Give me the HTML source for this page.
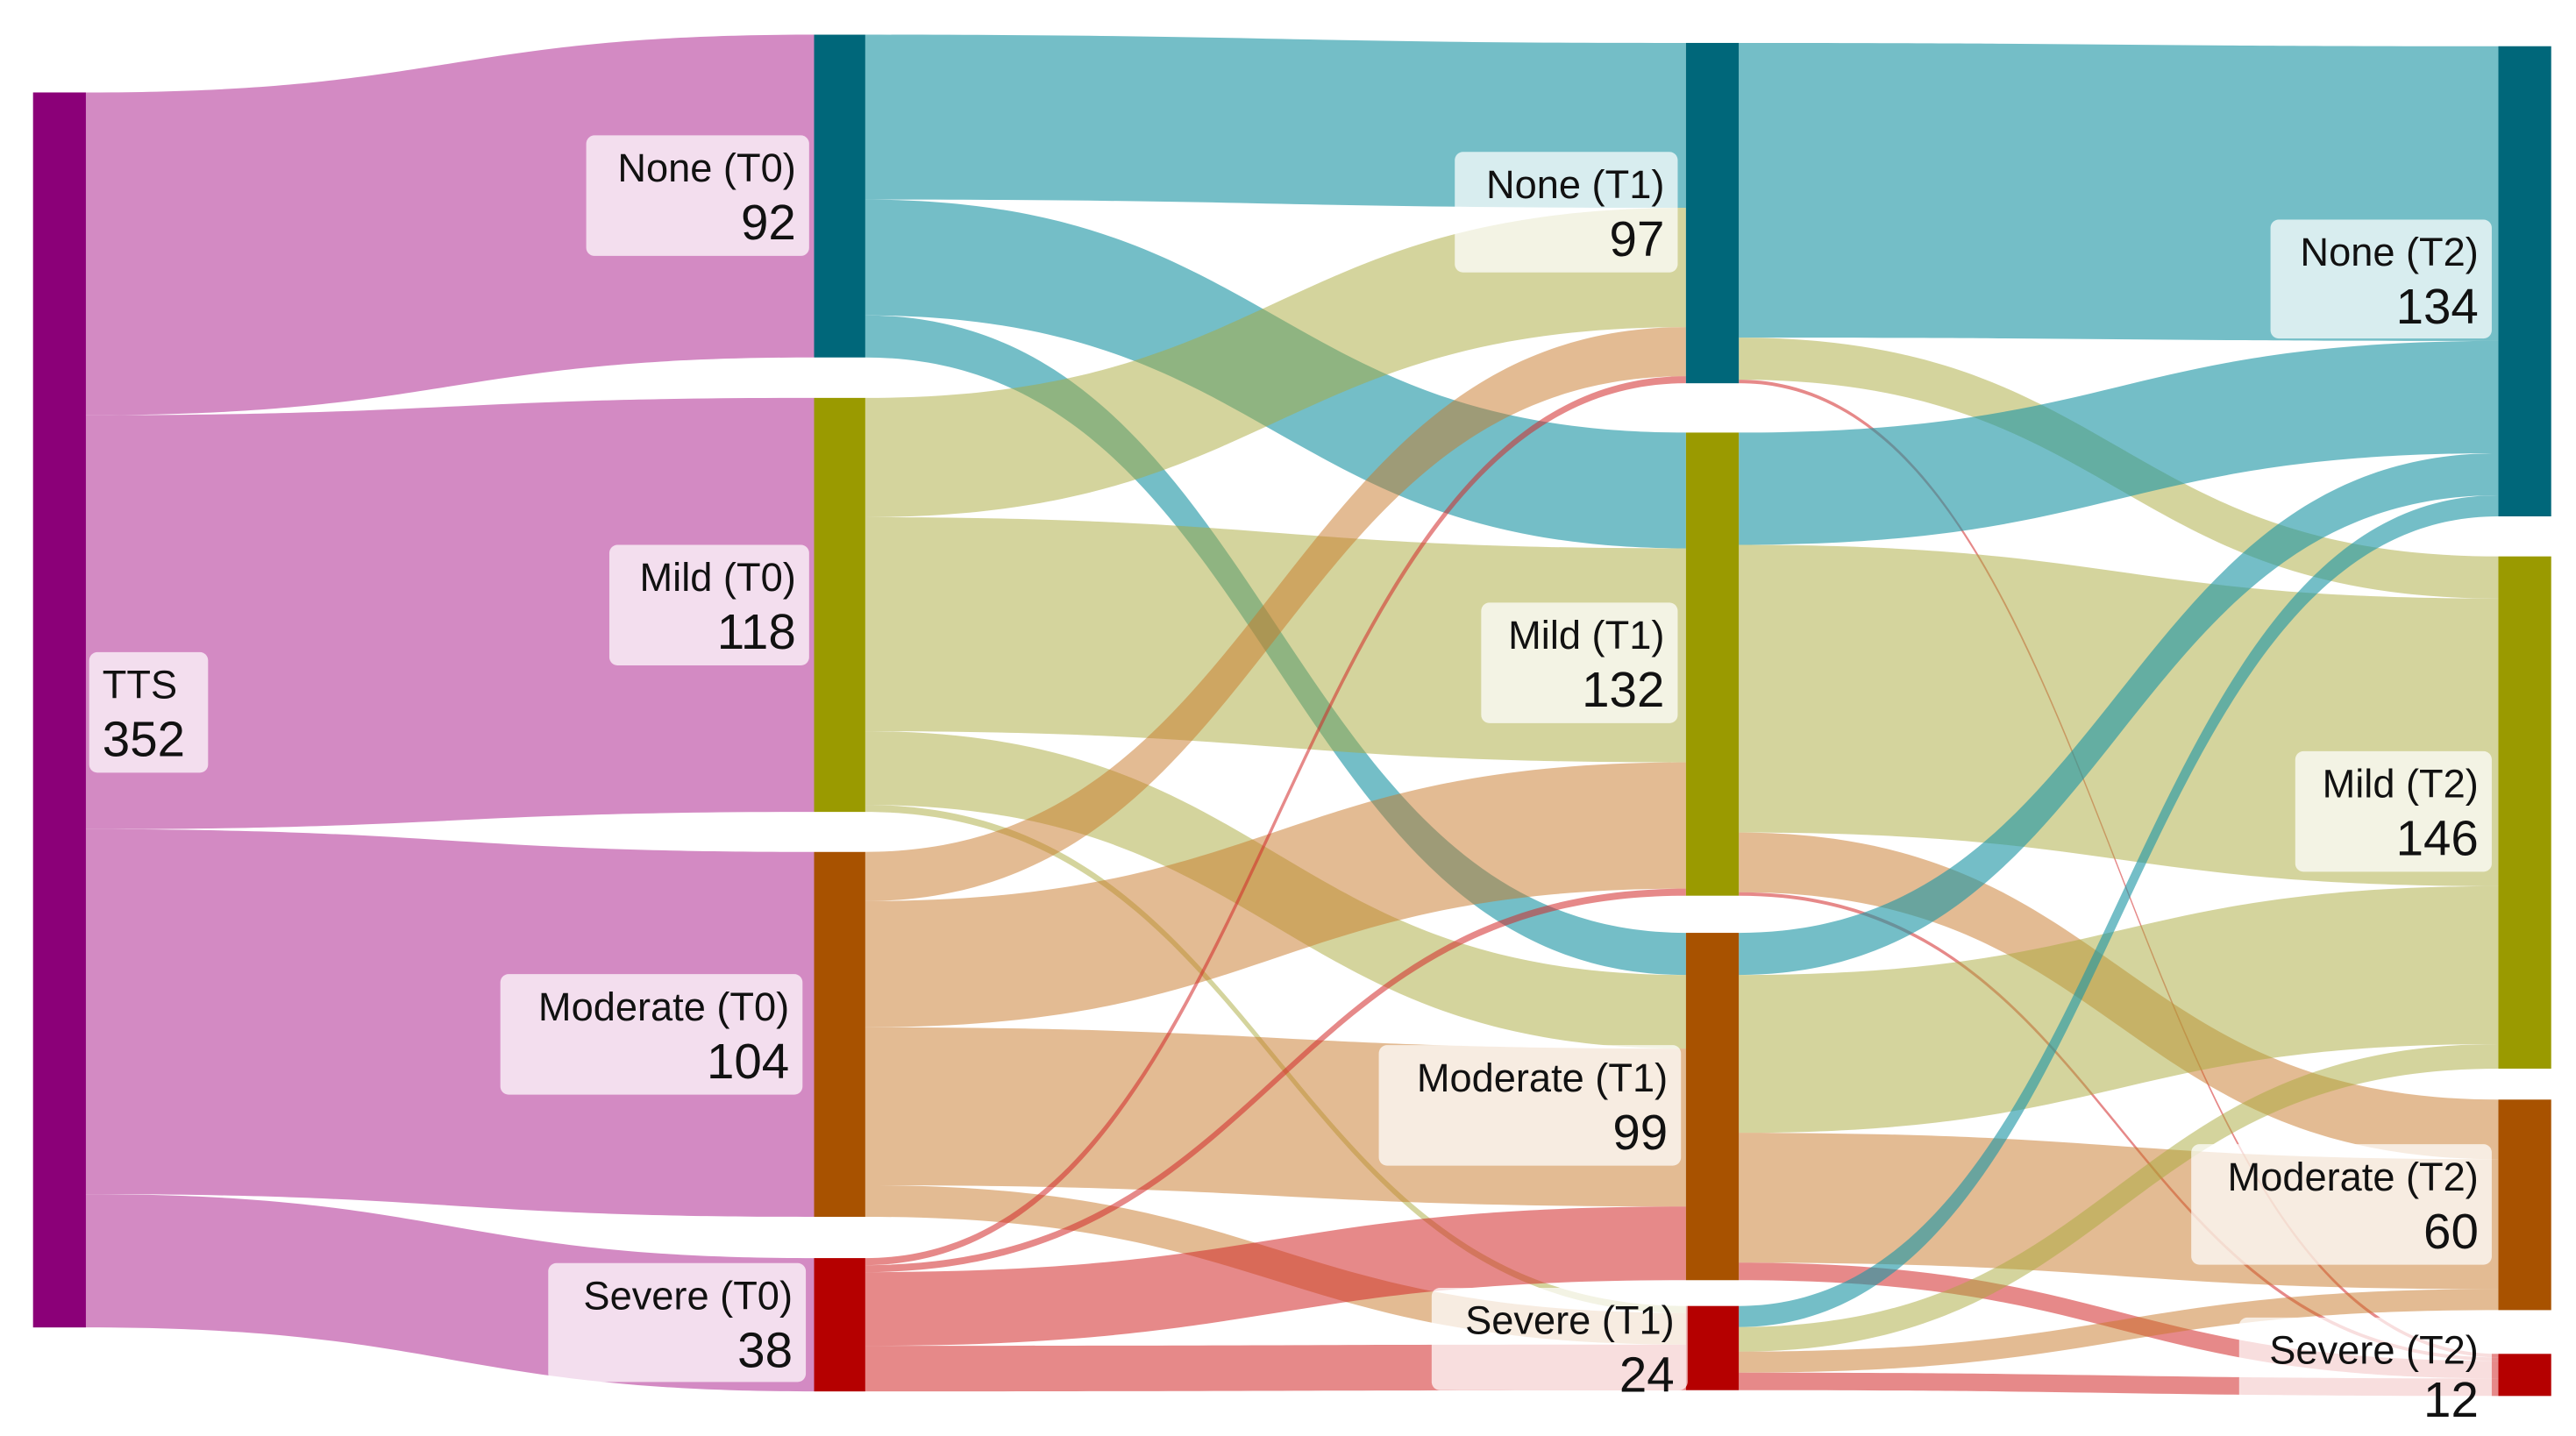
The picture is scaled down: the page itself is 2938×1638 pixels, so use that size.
<!DOCTYPE html>
<html><head><meta charset="utf-8"><style>
html,body{margin:0;padding:0;background:#fff;}
svg{display:block;}
text{font-family:"Liberation Sans",sans-serif;fill:#111;}
</style></head><body>
<svg id="chart" width="2938" height="1638" viewBox="0 0 1560 869.75" xmlns="http://www.w3.org/2000/svg">
<g id="links"></g>
<g id="nodes"></g>
<g id="labels"></g>
</svg>
<script>
// ---- data ----
const nodeNames = ["TTS","None (T0)","Mild (T0)","Moderate (T0)","Severe (T0)","None (T1)","Mild (T1)","Moderate (T1)","Severe (T1)","None (T2)","Mild (T2)","Moderate (T2)","Severe (T2)"];
const nodeValues = [352,92,118,104,38,97,132,99,24,134,146,60,12];
const nodeColumn = [0,1,1,1,1,2,2,2,2,3,3,3,3];
const linkSource = [0,0,0,0, 1,1,1, 2,2,2,2, 3,3,3,3, 4,4,4,4, 5,5,5, 6,6,6,6, 7,7,7,7, 8,8,8,8];
const linkTarget = [1,2,3,4, 5,6,7, 5,6,7,8, 5,6,7,8, 5,6,7,8, 9,10,12, 9,10,11,12, 9,10,11,12, 9,10,11,12];
const linkValues = [92,118,104,38, 47,33,12, 34,61,21,2, 14,36,45,9, 2,2,21,13, 84,12,1, 32,82,17,1, 12,45,37,5, 6,7,6,5];
const linkColorKey = ["p","p","p","p", "t","t","t", "o","o","o","o", "r","r","r","r", "s","s","s","s", "t","o","s", "t","o","r","s", "t","o","r","s", "t","o","r","s"];
// ---- layout/style ----
const K = 2.125;
const colX = [[20,52],[493,524],[1021,1053],[1513,1545]];
const nodeTop = [56,21,241,516,762,26,262,565,791,28,337,666,820];
const nodeColors = ["#8B0078","#00677A","#9A9A00","#A85200","#B50000","#00677A","#9A9A00","#A85200","#B50000","#00677A","#9A9A00","#A85200","#B50000"];
const linkFill = {p:"rgba(211,138,195,1)",t:"rgba(30,150,165,0.62)",o:"rgba(170,170,60,0.5)",r:"rgba(200,120,40,0.5)",s:"rgba(210,40,40,0.55)"};
const labelBox = [[54,395,72,73],[355,82,135,73],[369,330,121,73],[303,590,183,73],[332,765,156,72],[881,92,135,73],[897,365,119,73],[835,633,183,73],[867,780,155,62],[1375,133,134,72],[1390,455,119,73],[1327,693,182,73],[1356,798,153,52]];
const NS="http://www.w3.org/2000/svg";
const gL=document.getElementById('links'),gN=document.getElementById('nodes'),gT=document.getElementById('labels');
const outOff=nodeTop.slice(), inOff=nodeTop.slice();
function slug(s){return s.toLowerCase().replace(/[()]/g,'').trim().replace(/\s+/g,'-');}
for(let i=0;i<linkValues.length;i++){
  const s=linkSource[i],t=linkTarget[i],w=linkValues[i]*K;
  const x0=colX[nodeColumn[s]][1],x1=colX[nodeColumn[t]][0];
  const sy=outOff[s],ty=inOff[t];outOff[s]+=w;inOff[t]+=w;
  const xm=(x0+x1)/2;
  const d=`M${x0},${sy}C${xm},${sy} ${xm},${ty} ${x1},${ty}L${x1},${ty+w}C${xm},${ty+w} ${xm},${sy+w} ${x0},${sy+w}Z`;
  const p=document.createElementNS(NS,'path');
  p.setAttribute('d',d);p.setAttribute('fill',linkFill[linkColorKey[i]]);
  
  
  gL.appendChild(p);
}
for(let n=0;n<nodeNames.length;n++){
  const c=colX[nodeColumn[n]];
  const r=document.createElementNS(NS,'rect');
  r.setAttribute('x',c[0]);r.setAttribute('y',nodeTop[n]);r.setAttribute('width',c[1]-c[0]);r.setAttribute('height',nodeValues[n]*K);
  r.setAttribute('fill',nodeColors[n]);
  
  
  gN.appendChild(r);
  const b=labelBox[n];
  const g=document.createElementNS(NS,'g');
  
  
  const bx=document.createElementNS(NS,'rect');
  bx.setAttribute('x',b[0]);bx.setAttribute('y',b[1]);bx.setAttribute('width',b[2]);bx.setAttribute('height',b[3]);
  bx.setAttribute('rx',5);bx.setAttribute('fill','rgba(255,255,255,0.72)');
  
  
  g.appendChild(bx);
  const left=(n===0);
  const tx=left?b[0]+8:b[0]+b[2]-8;
  const t1=document.createElementNS(NS,'text');
  t1.setAttribute('x',tx);t1.setAttribute('y',b[1]+28);t1.setAttribute('font-size',24);
  t1.setAttribute('text-anchor',left?'start':'end');t1.textContent=nodeNames[n];
  
  
  g.appendChild(t1);
  const t2=document.createElementNS(NS,'text');
  t2.setAttribute('x',tx);t2.setAttribute('y',b[1]+Math.min(63,b[3]+8));t2.setAttribute('font-size',30);
  t2.setAttribute('text-anchor',left?'start':'end');t2.textContent=nodeValues[n];
  
  
  g.appendChild(t2);
  gT.appendChild(g);
}
</script>
</body></html>
